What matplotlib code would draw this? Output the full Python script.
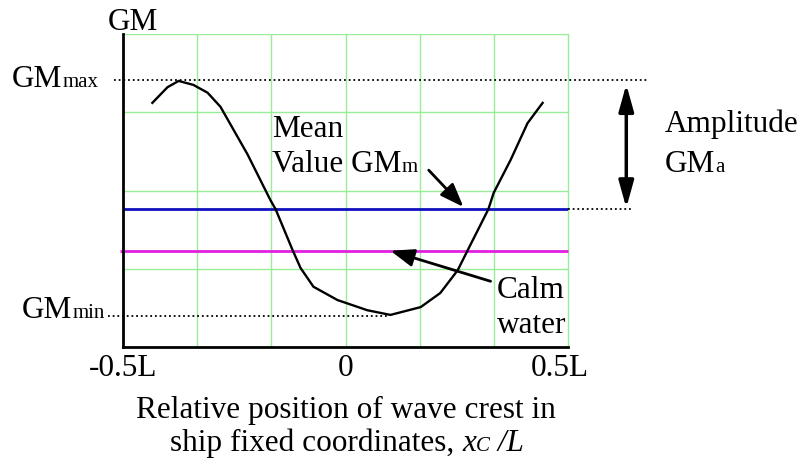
import numpy as np
import matplotlib
matplotlib.use('Agg')
import matplotlib.pyplot as plt
import matplotlib.transforms as mtransforms

plt.rcParams['font.family'] = ['Liberation Serif', 'DejaVu Serif']

# ---- data ----
x_crest = [-0.434, -0.400, -0.375, -0.342, -0.310, -0.281, -0.220, -0.169, -0.157,
           -0.119, -0.101, -0.072, -0.018, 0.049, 0.101, 0.169, 0.213, 0.252,
           0.274, 0.321, 0.333, 0.371, 0.409, 0.443]
gm = [3.12, 3.32, 3.40, 3.35, 3.25, 3.07, 2.46, 1.88, 1.76,
      1.24, 1.01, 0.77, 0.60, 0.47, 0.41, 0.51, 0.69, 0.98,
      1.23, 1.76, 1.97, 2.39, 2.86, 3.12]
gm_max = 3.41
gm_min = 0.39
gm_mean = 1.76
gm_calm = 1.23
tick_vals = [-0.5, 0, 0.5]
tick_labels = ['-0.5L', '0', '0.5L']
grid_x = np.linspace(-0.5, 0.5, 7)
grid_y = [0, 1, 2, 3, 4]

W, H = 801, 466
fig = plt.figure(figsize=(W / 100, H / 100), dpi=100)
ax = fig.add_axes([123 / W, 1 - 347 / H, (568 - 123) / W, (347 - 34) / H])
ax.set_xlim(-0.5, 0.5)
ax.set_ylim(0, 4)

FS = 22.5
SFS = 15

ax.set_xticks(tick_vals)
ax.set_xticklabels(tick_labels, fontsize=FS)
ax.set_xticks(grid_x, minor=True)
ax.set_yticks([])
ax.set_yticks(grid_y, minor=True)
ax.tick_params(which='both', length=0)
ax.tick_params(axis='x', pad=5)
ax.grid(which='both', color='#98EE98', lw=1.0)
for gl in ax.xaxis.get_gridlines() + ax.yaxis.get_gridlines():
    gl.set_clip_on(False)
ax.set_axisbelow(True)
for s in ['top', 'right']:
    ax.spines[s].set_visible(False)
for s in ['left', 'bottom']:
    ax.spines[s].set_linewidth(2)
    ax.spines[s].set_color('black')
    ax.spines[s].set_zorder(5)

lab = ax.get_xticklabels()[2]
lab.set_transform(lab.get_transform() + mtransforms.ScaledTranslation(-8 / 100, 0, fig.dpi_scale_trans))

# lines
ax.hlines(gm_mean, -0.5, 0.5, color='#1010C0', lw=2, zorder=3)
ax.hlines(gm_calm, -0.507, 0.5, color='#E020E0', lw=2, zorder=3, clip_on=False)
ax.plot(x_crest, gm, color='black', lw=1.7, zorder=4)

dot = (0, (1, 1.6))
ax.hlines(gm_max, -0.521, 0.683, colors='black', linestyles=dot, lw=1.3, clip_on=False)
ax.hlines(gm_min, -0.533, 0.097, colors='black', linestyles=dot, lw=1.3, clip_on=False)
ax.hlines(gm_mean, 0.5, 0.643, colors='black', linestyles=dot, lw=1.3, clip_on=False)

# arrows
ax.annotate('', xy=(0.631, gm_max), xytext=(0.631, gm_mean),
            arrowprops=dict(arrowstyle='<|-|>,head_length=0.9,head_width=0.25', lw=2.5,
                            color='black', mutation_scale=18,
                            shrinkA=1, shrinkB=3), annotation_clip=False)
ax.annotate('', xy=(0.265, 1.79), xytext=(0.187, 2.26),
            arrowprops=dict(arrowstyle='-|>,head_length=0.8,head_width=0.3', lw=2,
                            color='black', mutation_scale=18,
                            shrinkA=0, shrinkB=0), annotation_clip=False)
ax.annotate('', xy=(0.101, gm_calm), xytext=(0.326, 0.84),
            arrowprops=dict(arrowstyle='-|>,head_length=0.8,head_width=0.3', lw=2,
                            color='black', mutation_scale=18,
                            shrinkA=0, shrinkB=0), annotation_clip=False)


def label(x, y, parts, ha='left'):
    prev = None
    for s, size, style in parts:
        if prev is None:
            t = ax.annotate(s, xy=(x / W, 1 - y / H), xycoords='figure fraction',
                            fontsize=size, style=style, va='baseline', ha=ha,
                            annotation_clip=False)
        else:
            t = ax.annotate(s, xy=(1, 1 - y / H), xycoords=(prev, 'figure fraction'),
                            fontsize=size, style=style, va='baseline', ha='left',
                            annotation_clip=False)
        prev = t


label(108, 30, [('GM', FS, 'normal')])
label(12, 87, [('GM', FS, 'normal'), ('max', SFS, 'normal')])
label(22, 318, [('GM', FS, 'normal'), ('min', SFS, 'normal')])
label(272, 137, [('Mean', FS, 'normal')])
label(272, 172, [('Value GM', FS, 'normal'), ('m', SFS, 'normal')])
label(497, 298, [('Calm', FS, 'normal')])
label(497, 333, [('water', FS, 'normal')])
label(665, 132, [('Amplitude', FS, 'normal')])
label(665, 172, [('GM', FS, 'normal'), ('a', SFS, 'normal')])
label(346, 418, [('Relative position of wave crest in', FS, 'normal')], ha='center')
label(170, 451, [('ship fixed coordinates, ', FS, 'normal'), ('x', FS, 'italic'),
                 ('C', SFS, 'italic'), (' /L', FS, 'italic')])

fig.savefig('out.png', dpi=100)
